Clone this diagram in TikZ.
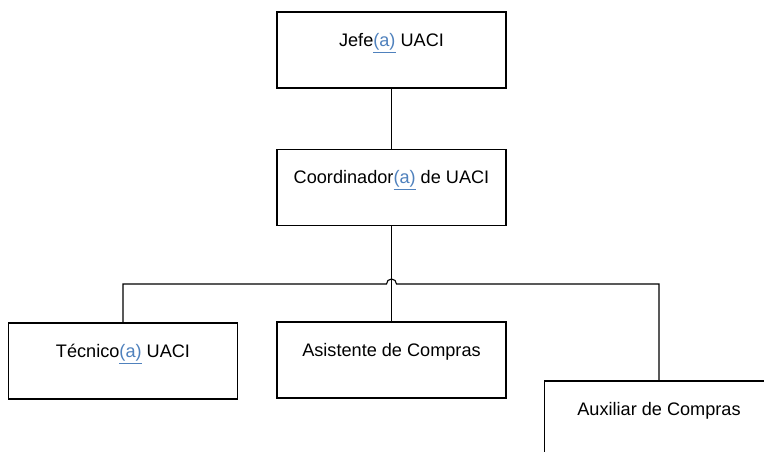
\documentclass[tikz,border=0pt]{standalone}
\usepackage{fontspec}
\setmainfont{Liberation Sans}
\begin{document}
\begin{tikzpicture}[every node/.style={font=\fontsize{12.9}{15}\selectfont}]
			% Define colors
			\definecolor{linkblue}{RGB}{79, 129, 189}

			% Styles
			\tikzstyle{org_box} = [draw=black, fill=white, line width=0.8pt, minimum width=5.725cm, inner sep=0pt, text height=0.8625cm, text depth=1.0375cm, align=center]
			\tikzstyle{org_line} = [draw=black, line width=0.8pt]

			% Helper for the blue (a)
			\newcommand{\genA}{\textcolor{linkblue}{\underline{(a)}}}

			% Page size and clipping
			\useasboundingbox (0,0) rectangle (19.1,11.3);
			\fill[white] (0,0) rectangle (19.1,11.3);
			\clip (0,0) rectangle (19.1,11.3);

			% Boxes
			\node[org_box] (jefe) at (9.7875, 10.05) {Jefe\genA{} UACI};
			\node[org_box] (coord) at (9.7875, 6.6125) {Coordinador\genA{} de UACI};
			\node[org_box] (tec) at (3.075, 2.275) {Técnico\genA{} UACI};
			\node[org_box] (asist) at (9.7875, 2.3) {Asistente de Compras};
			\node[org_box] (aux) at (16.475, 0.825) {Auxiliar de Compras};

			% Bus line crossing point
			\coordinate (bus) at (9.7875, 4.2);

			% Connectors
			\draw[org_line] (jefe) -- (coord);
			\draw[org_line] (coord) -- (asist);
			\draw[org_line] (tec.north) -- (tec.north |- bus) -- ([xshift=-0.125cm]bus) arc[start angle=180, end angle=0, radius=0.125cm] -- (aux.north |- bus) -- (aux.north);

		\end{tikzpicture}
\end{document}
